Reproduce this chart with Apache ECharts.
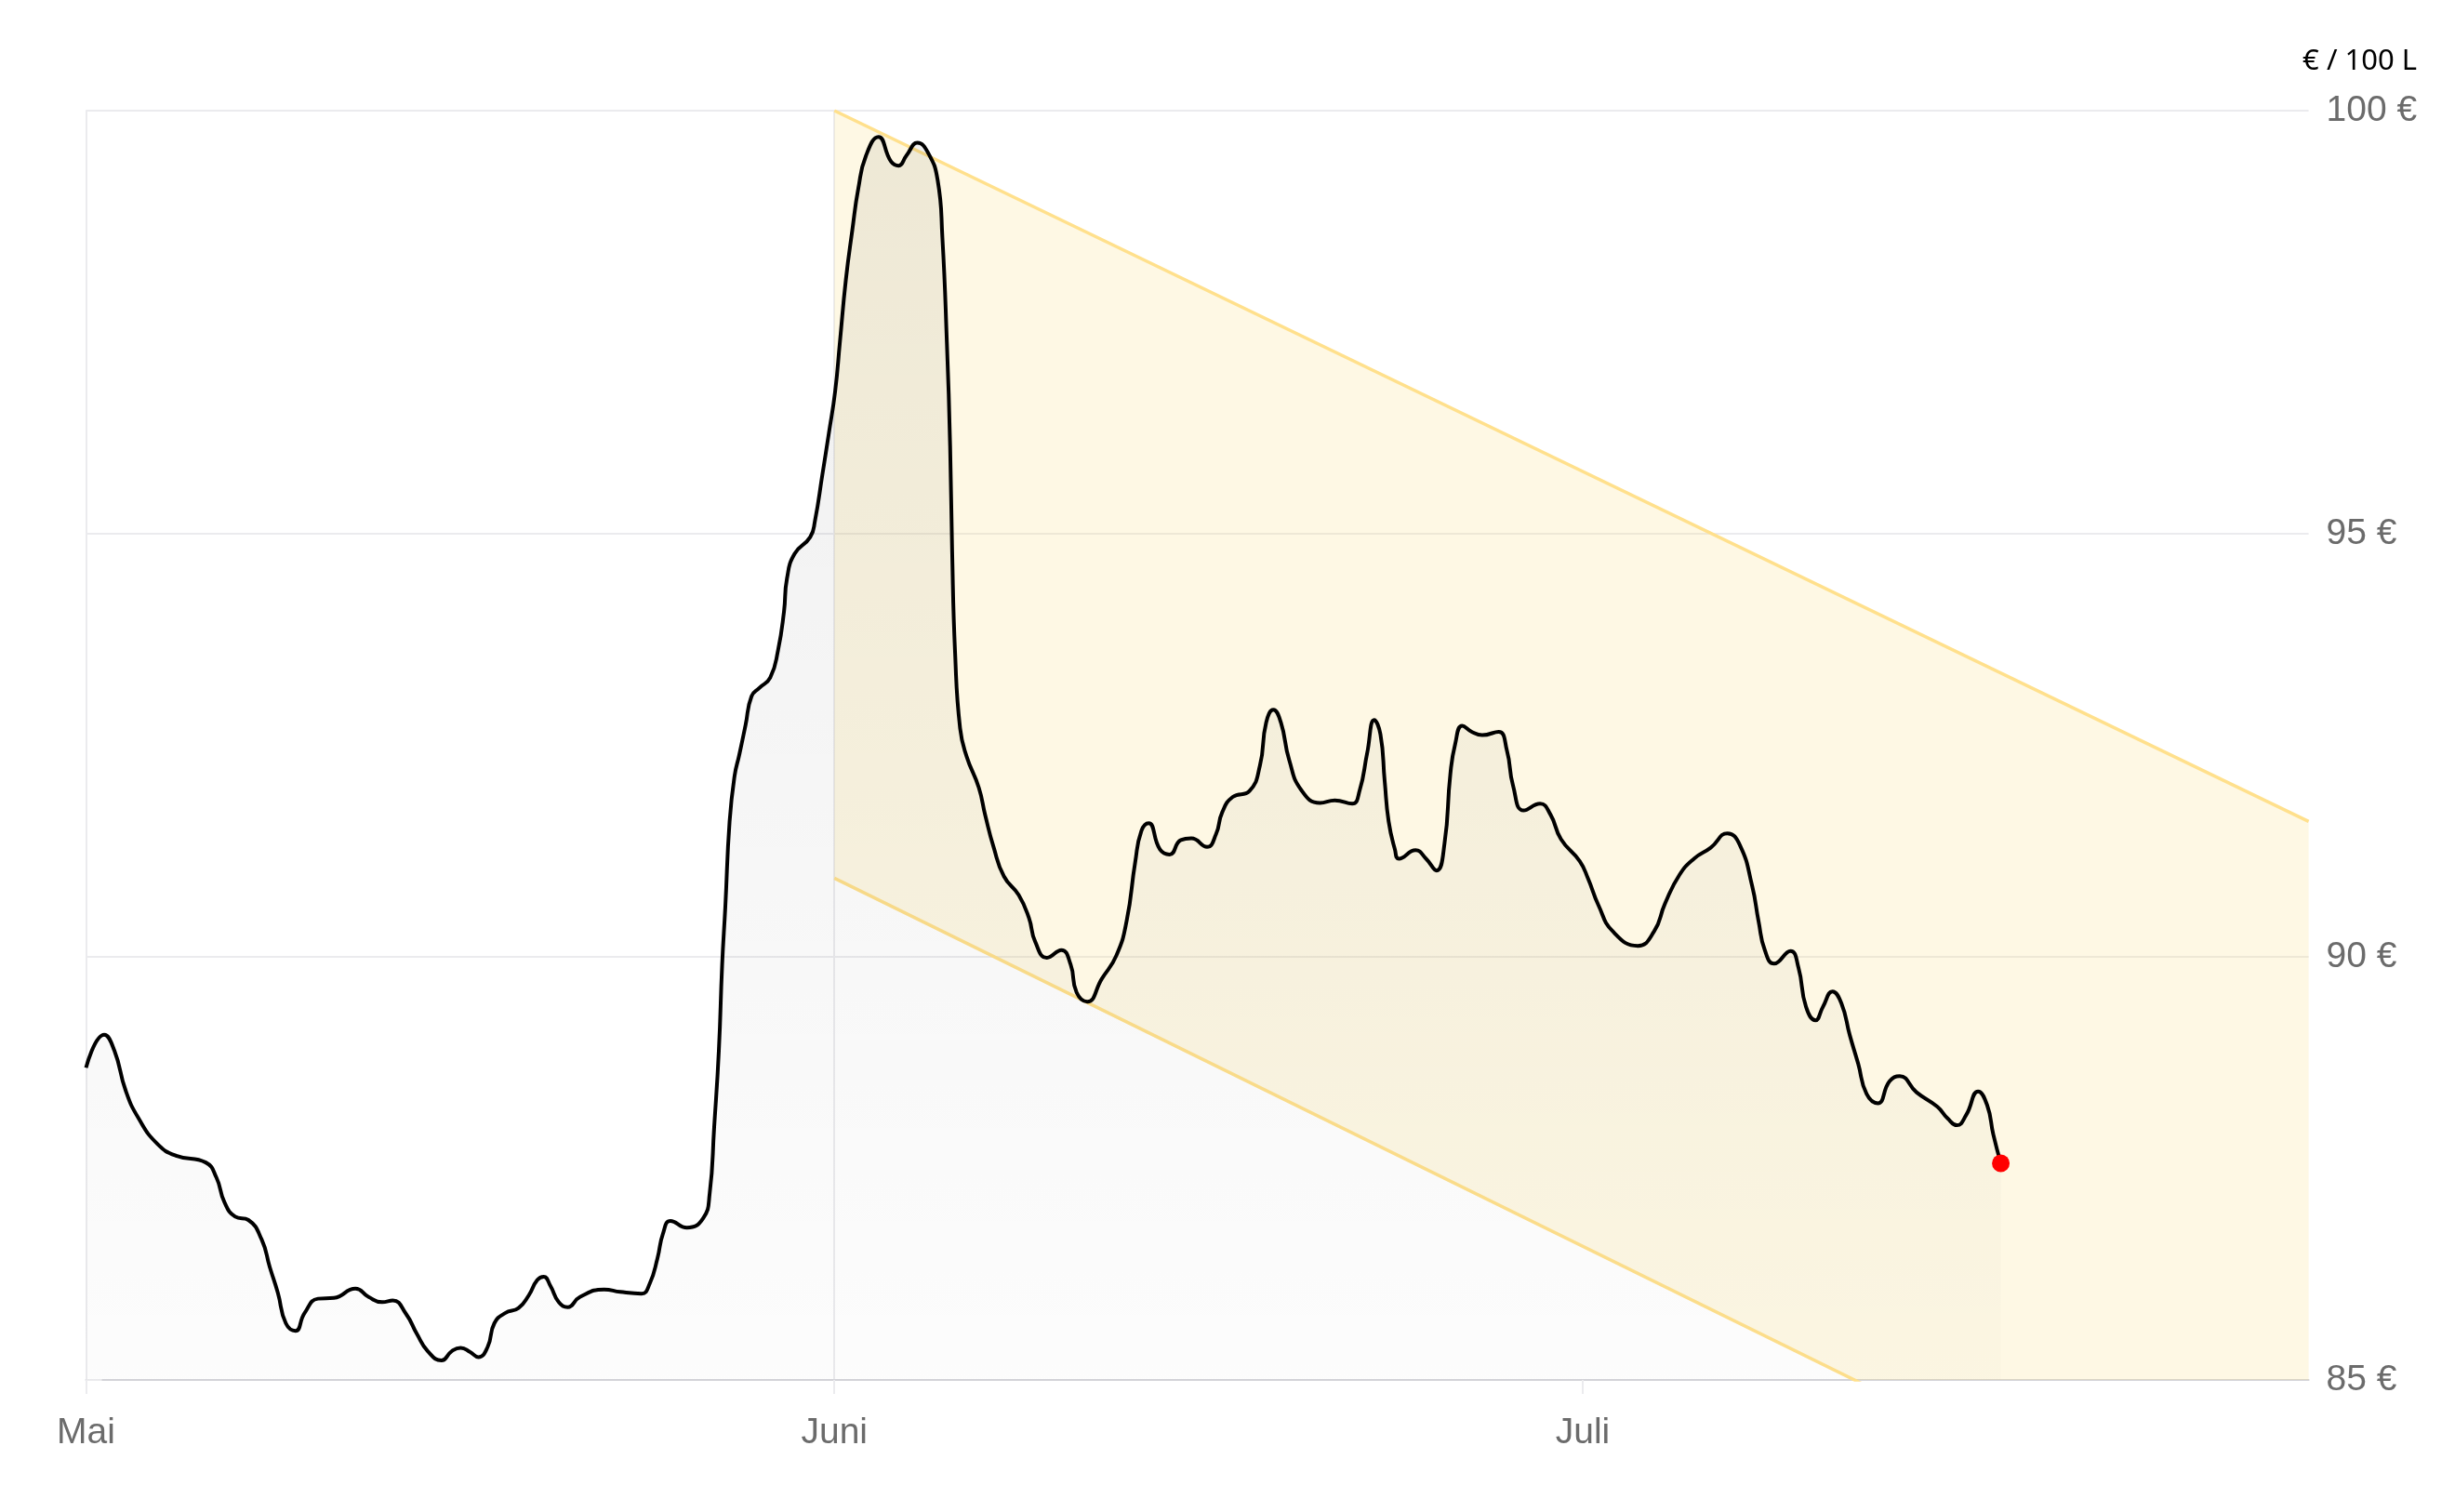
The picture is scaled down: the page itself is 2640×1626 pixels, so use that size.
<!DOCTYPE html>
<html>
<head>
<meta charset="utf-8">
<script src="https://cdn.jsdelivr.net/npm/echarts@6/dist/echarts.min.js"></script>
<style>
html,body{margin:0;padding:0;background:#fff;}
#chart{width:2640px;height:1626px;}
</style>
</head>
<body>
<div id="chart"></div>
<script>
// x = day offset from 1 May (axis spaced 30 units per month)
const days = [
  0, 0.73, 1.14, 1.59, 2.11, 2.86, 3.61, 4.8, 5.23, 5.55, 5.98, 6.51, 7.04, 7.37, 7.69, 8.01, 8.4, 8.76,
  9.3, 9.94, 10.8, 11.33, 11.87, 12.3, 12.83, 13.27, 13.7, 14.25, 14.66, 15.02, 15.4, 15.73, 16.1, 16.37,
  16.8, 17.34, 17.75, 18.09, 18.35, 18.62, 18.95, 19.31, 19.8, 20.77, 21.42, 22.27, 22.6, 22.91, 23.13,
  23.43, 24.09, 24.74, 25.0, 25.18, 25.37, 25.5, 25.63, 25.8, 26.0, 26.19, 26.44, 26.68, 27.0, 27.43,
  27.74, 27.98, 28.1, 28.4, 29.03, 29.22, 29.52, 29.78, 30.03, 30.22, 30.46, 30.72, 30.96, 31.27, 31.77,
  32.27, 32.58, 32.89, 33.33, 33.76, 34.14, 34.33, 34.51, 34.64, 34.72, 34.84, 35.04, 35.3, 35.79, 36.05,
  36.38, 36.8, 37.39, 37.8, 38.05, 38.52, 39.1, 39.47, 39.71, 40.14, 40.72, 41.31, 41.72, 42.06, 42.31,
  42.6, 43.05, 43.44, 43.89, 44.31, 44.94, 45.3, 45.55, 45.97, 46.64, 47.06, 47.31, 47.6, 47.9, 48.23,
  48.72, 49.47, 50.06, 50.76, 51.06, 51.36, 51.64, 51.89, 52.06, 52.22, 52.47, 52.63, 53.3, 53.72, 54.14,
  54.46, 54.69, 54.89, 55.17, 55.55, 55.97, 56.63, 56.96, 57.21, 57.63, 58.29, 58.71, 59.13, 59.88, 60.22,
  60.63, 61.21, 62.21, 62.86, 63.3, 63.88, 64.46, 65.13, 65.8, 66.3, 66.79, 67.05, 67.3, 67.67, 68.33,
  68.65, 68.95, 69.33, 69.63, 70.01, 70.37, 70.71, 71.04, 71.38, 71.83, 72.3, 72.71, 73.38, 74.21, 74.63,
  75.0, 75.37, 75.85, 76.21, 76.46, 76.76
];
const prices = [
  88.69, 89.08, 88.89, 88.42, 88.09, 87.79, 87.65, 87.57, 87.39, 87.1, 86.93, 86.89, 86.66, 86.33, 86.03, 85.67, 85.58, 85.79,
  85.96, 85.97, 86.08, 85.98, 85.92, 85.94, 85.78, 85.54, 85.34, 85.23, 85.34, 85.38, 85.33, 85.27, 85.39, 85.67,
  85.79, 85.85, 86.0, 86.18, 86.22, 86.11, 85.92, 85.86, 85.98, 86.07, 86.04, 86.02, 86.14, 86.44, 86.73,
  86.88, 86.8, 86.91, 87.2, 87.98, 88.9, 89.9, 90.6, 91.6, 92.14, 92.39, 92.74, 93.08, 93.18, 93.3,
  93.62, 94.08, 94.47, 94.76, 94.96, 95.15, 95.7, 96.19, 96.68, 97.26, 98.0, 98.59, 99.08, 99.47, 99.69,
  99.4, 99.35, 99.47, 99.62, 99.5, 99.18, 98.5, 97.26, 96.04, 94.81, 93.59, 92.7, 92.37, 92.0, 91.67,
  91.3, 90.95, 90.73, 90.46, 90.18, 89.99, 90.08, 89.91, 89.58, 89.47, 89.74, 90.02, 90.43, 91.12, 91.49,
  91.58, 91.27, 91.21, 91.38, 91.4, 91.3, 91.45, 91.71, 91.89, 91.96, 92.26, 92.77, 92.92, 92.77, 92.33,
  91.97, 91.82, 91.85, 91.81, 91.97, 92.41, 92.8, 92.63, 92.08, 91.6, 91.27, 91.16, 91.26, 91.16, 91.02,
  91.34, 92.15, 92.52, 92.73, 92.66, 92.62, 92.66, 92.44, 92.02, 91.73, 91.81, 91.68, 91.39, 91.13, 90.92,
  90.61, 90.3, 90.13, 90.3, 90.63, 90.97, 91.16, 91.29, 91.46, 91.32, 90.84, 90.42, 90.08, 89.92, 90.07,
  89.87, 89.41, 89.25, 89.41, 89.59, 89.45, 89.07, 88.74, 88.38, 88.27, 88.53, 88.59, 88.4, 88.23, 88.09,
  88.01, 88.13, 88.41, 88.25, 87.9, 87.56
];
const monthTicks = [0, 30, 60];
const monthNames = ['Mai', 'Juni', 'Juli'];
const yMin = 85, yMax = 100, yStep = 5;
const xMin = 0, xMax = 89.1;
const channelDays = [30, 89.1];
const channelUpper = [100.0, 91.6];
const channelLower = [90.93, 82.36];
const unitLabel = '€ / 100 L';

const GRID = '#ebebee';
const LABEL = '#6b6b6b';
const BAND_LINE = '#ffe08c';
const FONT = 'Liberation Sans, Arial, sans-serif';

const chart = echarts.init(document.getElementById('chart'), null, {renderer: 'canvas'});
const priceData = days.map((d, i) => [d, prices[i]]);
const last = priceData[priceData.length - 1];

chart.setOption({
  animation: false,
  backgroundColor: '#ffffff',
  title: {
    text: unitLabel,
    right: 36,
    top: 46,
    textStyle: {fontSize: 31, fontWeight: 'normal', color: '#000', fontFamily: 'Noto Sans, sans-serif'}
  },
  grid: {left: 92.5, right: 157.4, top: 119, bottom: 142, containLabel: false},
  xAxis: {
    type: 'value',
    min: xMin,
    max: xMax,
    axisLine: {show: true, lineStyle: {color: '#d4d4d9', width: 2}},
    axisTick: {show: true, customValues: monthTicks, length: 15, lineStyle: {color: GRID, width: 2}},
    axisLabel: {
      customValues: monthTicks,
      formatter: v => { const k = monthTicks.indexOf(v); return k >= 0 ? monthNames[k] : ''; },
      color: LABEL, fontSize: 39, margin: 38, fontFamily: FONT
    },
    splitLine: {show: true, showMaxLine: false, lineStyle: {color: GRID, width: 2}}
  },
  yAxis: {
    type: 'value',
    position: 'right',
    min: yMin,
    max: yMax,
    interval: yStep,
    axisLine: {show: false},
    axisTick: {show: true, length: 17, lineStyle: {color: GRID, width: 2}},
    axisLabel: {formatter: '{value} €', color: LABEL, fontSize: 39, margin: 19, fontFamily: FONT},
    splitLine: {show: true, lineStyle: {color: GRID, width: 2}}
  },
  series: [
    {
      type: 'custom',
      clip: true,
      silent: true,
      z: 1,
      data: [[channelDays[0], channelUpper[0]]],
      renderItem: function (params, api) {
        const pts = [];
        for (let i = 0; i < channelDays.length; i++) pts.push(api.coord([channelDays[i], channelUpper[i]]));
        for (let i = channelDays.length - 1; i >= 0; i--) pts.push(api.coord([channelDays[i], channelLower[i]]));
        return {type: 'polygon', shape: {points: pts}, style: {fill: 'rgba(250,220,120,0.2)'}};
      }
    },
    {
      type: 'line', silent: true, z: 2, symbol: 'none', clip: true,
      data: channelDays.map((d, i) => [d, channelUpper[i]]),
      lineStyle: {color: BAND_LINE, width: 3.5}
    },
    {
      type: 'line', silent: true, z: 2, symbol: 'none', clip: true,
      data: channelDays.map((d, i) => [d, channelLower[i]]),
      lineStyle: {color: BAND_LINE, width: 3.5}
    },
    {
      type: 'line', z: 3, symbol: 'none', clip: true,
      smooth: 0.5,
      data: priceData,
      lineStyle: {color: '#000', width: 4},
      areaStyle: {
        origin: 'start',
        color: new echarts.graphic.LinearGradient(0, 0, 0, 1, [
          {offset: 0, color: 'rgba(0,0,0,0.09)'},
          {offset: 1, color: 'rgba(0,0,0,0.015)'}
        ])
      }
    },
    {
      type: 'scatter', z: 5,
      data: [last],
      symbolSize: 19,
      itemStyle: {color: '#ff0000', opacity: 1}
    }
  ]
});
</script>
</body>
</html>
